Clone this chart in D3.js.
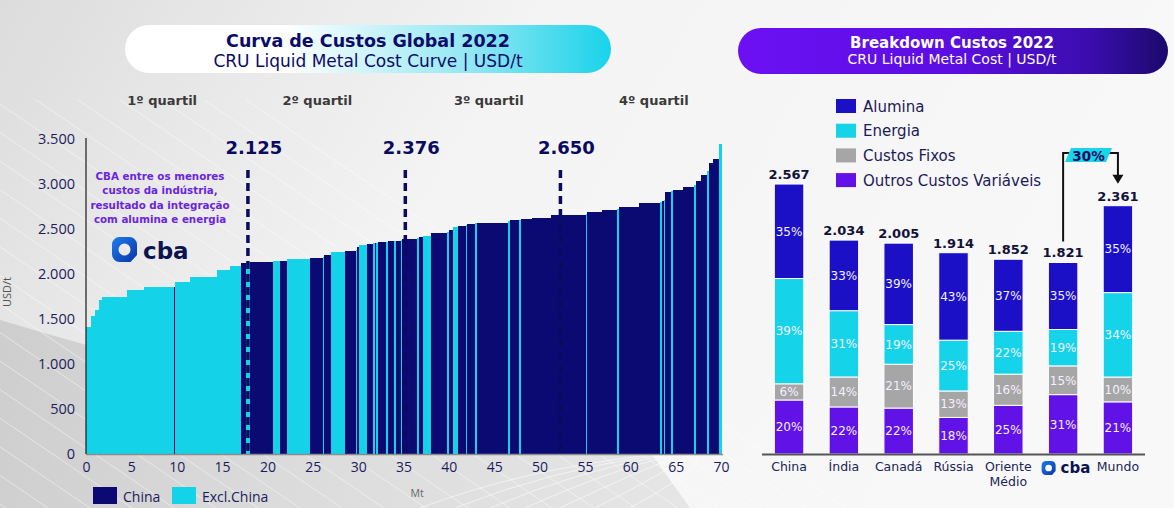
<!DOCTYPE html>
<html><head><meta charset="utf-8">
<script src="https://cdn.jsdelivr.net/npm/d3@7"></script>
<style>html,body{margin:0;padding:0;background:#f4f4f4;overflow:hidden}svg{display:block}</style>
</head><body>
<svg id="c" width="1174" height="508"></svg>
<script>
// ---------------- DATA ----------------
// Global cost curve: capacity (Mt) of each plant block, cost (USD/t), region (C = China, E = Excl.China)
const curveCapacity = [0.55,0.44,0.44,0.33,2.76,1.87,3.31,0.11,1.65,2.98,1.43,1.21,
  0.55,0.44,2.54,0.77,0.77,2.54,1.43,0.15,0.70,1.54,1.21,
  0.15,0.2,0.88,0.66,0.2,0.2,0.2,0.88,0.2,0.66,0.2,0.55,0.15,
  1.65,0.2,0.45,0.88,1.76,0.2,0.45,0.55,0.88,0.15,0.88,0.2,3.42,0.2,1.0,0.2,1.2,
  2.1,3.9,0.15,1.65,1.65,0.2,2.2,2.3,
  0.2,0.2,0.2,0.66,0.2,1.1,1.2,0.2,0.55,0.66,0.2,0.5,0.6,0.4];
const curveCost = [1410,1530,1600,1710,1745,1820,1855,1855,1910,1965,2045,2090,
  2120,2125,2133,2144,2150,2167,2181,2190,2211,2244,2259,
  2262,2300,2322,2333,2340,2345,2350,2356,2360,2367,2370,2372,2376,
  2389,2400,2411,2422,2456,2470,2489,2522,2533,2540,2556,2565,2570,2590,2600,2605,2611,
  2626,2660,2665,2690,2710,2720,2745,2790,
  2800,2810,2820,2911,2920,2933,2967,2990,3033,3100,3150,3233,3278,3450];
const curveRegion = ("EEEEEEECEEEE" + "CECECECECEC" + "ECECECECECECE" +
  "CECECECECECECECEC" + "CCECCECC" + "ECECECCECCECCE").split("");
const regionNames = ["China","Excl.China"];
const quartileNames = ["1º quartil","2º quartil","3º quartil","4º quartil"];
const quartileNamePos = [8.4,25.5,44.4,62.6];
const markerPos = [17.85,35.2,52.3];
const markerLabels = ["2.125","2.376","2.650"];
const yTicksL = [0,500,1000,1500,2000,2500,3000,3500];
const xTicksL = [0,5,10,15,20,25,30,35,40,45,50,55,60,65,70];
const noteLines = ["CBA entre os menores","custos da indústria,","resultado da integração","com alumina e energia"];

// Breakdown chart
const categories = ["China","Índia","Canadá","Rússia","Oriente Médio","cba","Mundo"];
const totals = [2567,2034,2005,1914,1852,1821,2361];
const aluminaPct = [35,33,39,43,37,35,35];
const energiaPct = [39,31,19,25,22,19,34];
const fixosPct   = [6,14,21,13,16,15,10];
const outrosPct  = [20,22,22,18,25,31,21];
const seriesNames = ["Alumina","Energia","Custos Fixos","Outros Custos Variáveis"];
const gapLabel = "30%";

// ---------------- SETUP ----------------
const fmt = d3.formatLocale({decimal:",",thousands:".",grouping:[3],currency:["",""]}).format(",");
const DV = "DejaVu Sans", OS = "Open Sans";
const NAVY = "#0a0a72", CYAN = "#14d3e8";
const svg = d3.select("#c");
const defs = svg.append("defs");
function lg(id, stops, x1=0,y1=0,x2=1,y2=0){
  const g = defs.append("linearGradient").attr("id",id).attr("x1",x1).attr("y1",y1).attr("x2",x2).attr("y2",y2);
  stops.forEach(s=>g.append("stop").attr("offset",s[0]).attr("stop-color",s[1]));
}
lg("bg",[[0,"#dcdcdc"],[0.22,"#e9e9e9"],[0.45,"#f4f4f4"],[1,"#f8f8f8"]],0,0,1,0.25);
lg("bgDark",[[0,"#c4c4c4"],[0.5,"#d3d3d3"],[1,"#dedede"]],0,0,1,0);
lg("pillL",[[0,"#ffffff"],[0.33,"#ffffff"],[0.72,"#8fe6f2"],[1,"#19d3ea"]]);
lg("pillR",[[0,"#6c10f4"],[0.5,"#5c0ee2"],[0.82,"#3a0cae"],[1,"#1b0a6c"]]);
lg("logo",[[0,"#1e7cf0"],[1,"#0b35a6"]],0,0,1,1);

// background
svg.append("rect").attr("width",1174).attr("height",508).attr("fill","url(#bg)");
const darkPath = "M0,320 C170,370 420,440 650,452 L690,508 L0,508 Z";
defs.append("clipPath").attr("id","darkClip").append("path").attr("d",darkPath);
svg.append("path").attr("d",darkPath).attr("fill","url(#bgDark)").attr("opacity",0.7);
const deco = svg.append("g").attr("stroke","#ffffff").attr("fill","none");
d3.range(-10,14).forEach(i=>{
  deco.append("line").attr("x1",i*42-300).attr("y1",100).attr("x2",i*42+300).attr("y2",508)
    .attr("stroke-width",1).attr("stroke-opacity",0.45);
});
d3.range(0,7).forEach(i=>{
  deco.append("path").attr("d",`M${420+i*35},508 Q${520+i*30},470 ${650+i*8},455`).attr("stroke-width",1).attr("stroke-opacity",0.55);
});

// ---------------- LEFT CHART ----------------
const xL = d3.scaleLinear().domain([0,70]).range([86,721]);
const yL = d3.scaleLinear().domain([0,3500]).range([454,139]);
const gL = svg.append("g");

// header pill
gL.append("rect").attr("x",125).attr("y",25).attr("width",486).attr("height",48).attr("rx",24).attr("fill","url(#pillL)");
gL.append("text").attr("x",368).attr("y",46.5).attr("text-anchor","middle").attr("font-family",DV).attr("font-weight","bold")
  .attr("font-size",17.5).attr("fill","#0b0b6a").text("Curva de Custos Global 2022");
gL.append("text").attr("x",368).attr("y",67).attr("text-anchor","middle").attr("font-family",DV)
  .attr("font-size",17).attr("fill","#0b0b6a").text("CRU Liquid Metal Cost Curve | USD/t");

// quartile titles
gL.selectAll("text.q").data(quartileNames).join("text").attr("class","q")
  .attr("x",(d,i)=>xL(quartileNamePos[i])).attr("y",105).attr("text-anchor","middle")
  .attr("font-family",DV).attr("font-weight","bold").attr("font-size",13).attr("fill","#3a3a3a").text(d=>d);

// bars
let acc = 0;
const segs = curveCapacity.map((w,i)=>{const s={x0:acc,x1:acc+w,cost:curveCost[i],region:curveRegion[i]}; acc+=w; return s;});
const colL = {C:NAVY,E:CYAN};
gL.append("g").selectAll("rect").data(segs).join("rect")
  .attr("x",d=>xL(d.x0)).attr("width",d=>Math.max(1,xL(d.x1)-xL(d.x0)))
  .attr("y",d=>yL(d.cost)).attr("height",d=>yL(0)-yL(d.cost))
  .attr("fill",d=>colL[d.region]).attr("shape-rendering","crispEdges");

// axes
const yAx = gL.append("g").attr("transform",`translate(${xL(0)},0)`)
  .call(d3.axisLeft(yL).tickValues(yTicksL).tickSize(0).tickPadding(11).tickFormat(fmt));
yAx.select(".domain").remove();
yAx.selectAll("text").attr("font-family",OS).attr("font-size",14.5).attr("fill","#1c1c5c");
const xAx = gL.append("g").attr("transform",`translate(0,${yL(0)})`)
  .call(d3.axisBottom(xL).tickValues(xTicksL).tickSize(0).tickPadding(8).tickFormat(d3.format("d")));
xAx.select(".domain").remove();
xAx.selectAll("text").attr("font-family",OS).attr("font-size",14).attr("fill","#1c1c5c");
gL.append("line").attr("x1",xL(0)).attr("x2",xL(70)+2).attr("y1",yL(0)+0.5).attr("y2",yL(0)+0.5).attr("stroke","#8c8c8c").attr("stroke-width",1.5);
gL.append("line").attr("x1",xL(0)).attr("x2",xL(0)).attr("y1",yL(3500)-1).attr("y2",yL(0)).attr("stroke","#1a1a1a").attr("stroke-width",1.2);

gL.append("text").attr("transform",`translate(11,${yL(1800)}) rotate(-90)`).attr("text-anchor","middle")
  .attr("font-family",OS).attr("font-size",11).attr("fill","#555").text("USD/t");
gL.append("text").attr("x",xL(36.5)).attr("y",497).attr("text-anchor","middle")
  .attr("font-family",OS).attr("font-size",10.5).attr("fill","#666").text("Mt");

// marker lines
markerPos.forEach((p,i)=>{
  gL.append("line").attr("x1",xL(p)).attr("x2",xL(p)).attr("y1",170).attr("y2",yL(0))
    .attr("stroke","#0a0a5e").attr("stroke-width",3.5).attr("stroke-dasharray","8,5");
  gL.append("text").attr("x",xL(p)+6).attr("y",154).attr("text-anchor","middle").attr("font-family",DV)
    .attr("font-weight","bold").attr("font-size",18).attr("fill","#0a0a5e").text(markerLabels[i]);
});

// note
gL.selectAll("text.note").data(noteLines).join("text").attr("class","note")
  .attr("x",160).attr("y",(d,i)=>179.5+i*14.5).attr("text-anchor","middle").attr("font-family",DV)
  .attr("font-weight","bold").attr("font-size",10.3).attr("fill","#6a25dd").text(d=>d);

function logo(g,x,y,s,fs,gap){
  const r = s*0.3, cx = x+s/2, cy = y+s/2, ir = s*0.24;
  const p = d3.path();
  p.moveTo(x+r,y); p.lineTo(x+s-r,y); p.arcTo(x+s,y,x+s,y+r,r); p.lineTo(x+s,y+s*0.72);
  p.lineTo(x+s*0.74,y+s); p.lineTo(x+r,y+s); p.arcTo(x,y+s,x,y+s-r,r); p.lineTo(x,y+r); p.arcTo(x,y,x+r,y,r); p.closePath();
  p.moveTo(cx+ir,cy); p.arc(cx,cy,ir,0,Math.PI*2,true); p.closePath();
  g.append("path").attr("d",p.toString()).attr("fill","url(#logo)").attr("fill-rule","evenodd");
  g.append("text").attr("x",x+s+gap).attr("y",y+s*0.86).attr("font-family",DV).attr("font-weight","bold")
    .attr("font-size",fs).attr("fill","#0c1450").text("cba");
}
logo(gL,112,237,25,23,6);

// legend left
const legL = gL.append("g");
regionNames.forEach((n,i)=>{
  const lx = [93,172][i];
  legL.append("rect").attr("x",lx).attr("y",487).attr("width",24).attr("height",17).attr("fill",[NAVY,CYAN][i]);
  legL.append("text").attr("x",lx+30).attr("y",501.5).attr("font-family",OS).attr("font-size",14).attr("fill","#1c1c5c").text(n);
});

// ---------------- RIGHT CHART ----------------
const gR = svg.append("g");
gR.append("rect").attr("x",738).attr("y",28).attr("width",430).attr("height",46).attr("rx",23).attr("fill","url(#pillR)");
gR.append("text").attr("x",952).attr("y",47.5).attr("text-anchor","middle").attr("font-family",DV).attr("font-weight","bold")
  .attr("font-size",15).attr("fill","#ffffff").text("Breakdown Custos 2022");
gR.append("text").attr("x",952).attr("y",64).attr("text-anchor","middle").attr("font-family",DV)
  .attr("font-size",14).attr("fill","#ffffff").text("CRU Liquid Metal Cost | USD/t");

const keys = ["outros","fixos","energia","alumina"];
const colR = {alumina:"#1b10c6",energia:"#15d3e9",fixos:"#a6a6a6",outros:"#6112e6"};
const rows = categories.map((c,i)=>{
  const sum = aluminaPct[i]+energiaPct[i]+fixosPct[i]+outrosPct[i];
  return {cat:c,total:totals[i],
    alumina:totals[i]*aluminaPct[i]/sum, energia:totals[i]*energiaPct[i]/sum,
    fixos:totals[i]*fixosPct[i]/sum, outros:totals[i]*outrosPct[i]/sum,
    pct:{alumina:aluminaPct[i],energia:energiaPct[i],fixos:fixosPct[i],outros:outrosPct[i]}};
});
const stack = d3.stack().keys(keys)(rows);
const xR = d3.scaleBand().domain(categories).range([762,1145]).paddingInner(0.462).paddingOuter(0.225);
const yR = d3.scaleLinear().domain([0,3000]).range([454,454-315.5]);
const bw = xR.bandwidth();

stack.forEach(layer=>{
  const k = layer.key;
  const lg2 = gR.append("g");
  lg2.selectAll("rect").data(layer).join("rect")
    .attr("x",d=>xR(d.data.cat)).attr("width",bw)
    .attr("y",d=>yR(d[1])).attr("height",d=>yR(d[0])-yR(d[1]))
    .attr("fill",colR[k]).attr("stroke","#ffffff").attr("stroke-width",1);
  lg2.selectAll("text").data(layer).join("text")
    .attr("x",d=>xR(d.data.cat)+bw/2).attr("y",d=>(yR(d[0])+yR(d[1]))/2+4.3)
    .attr("text-anchor","middle").attr("font-family",DV).attr("font-size",12).attr("fill","#f4f0ff")
    .text(d=>d.data.pct[k]+"%");
});
gR.append("line").attr("x1",762).attr("x2",1145).attr("y1",yR(0)+0.5).attr("y2",yR(0)+0.5).attr("stroke","#555").attr("stroke-width",2);

// totals
gR.selectAll("text.tot").data(rows).join("text").attr("class","tot")
  .attr("x",d=>xR(d.cat)+bw/2).attr("y",d=>yR(d.total)-5).attr("text-anchor","middle")
  .attr("font-family",DV).attr("font-weight","bold").attr("font-size",13).attr("fill","#121238")
  .text(d=>fmt(d.total));

// category labels
categories.forEach(c=>{
  const cx = xR(c)+bw/2;
  if(c==="cba"){ logo(gR,cx-21.5,461,14,15,5); return; }
  const parts = c==="Oriente Médio" ? ["Oriente","Médio"] : [c];
  parts.forEach((t,j)=>gR.append("text").attr("x",cx).attr("y",471+j*15).attr("text-anchor","middle")
    .attr("font-family",DV).attr("font-size",12.5).attr("fill","#1b2656").text(t));
});

// legend right
seriesNames.forEach((n,i)=>{
  const ly = 99+i*24.7;
  gR.append("rect").attr("x",836).attr("y",ly).attr("width",20).attr("height",14).attr("fill",colR[["alumina","energia","fixos","outros"][i]]);
  gR.append("text").attr("x",863).attr("y",ly+12.5).attr("font-family",DV).attr("font-size",15).attr("fill","#1b1b5a").text(n);
});

// 30% bracket arrow
const xc = xR("cba")+bw/2, xm = xR("Mundo")+bw/2, ty = yR(2862);
const tip = yR(totals[6])-22;
gR.append("path").attr("d",`M${xc},${yR(totals[5])-21} V${ty} H${xm} V${tip-7}`)
  .attr("fill","none").attr("stroke","#111").attr("stroke-width",2);
gR.append("path").attr("d",`M${xm-5.5},${tip-9} L${xm+5.5},${tip-9} L${xm},${tip} Z`).attr("fill","#111");
const pc = (xc+xm)/2 - 2;
gR.append("path").attr("d",`M${pc-17.5},${ty-5} L${pc+23.5},${ty-5} L${pc+17.5},${ty+9} L${pc-23.5},${ty+9} Z`).attr("fill","#1ad4ea");
gR.append("text").attr("x",pc).attr("y",ty+7.5).attr("text-anchor","middle").attr("font-family",DV)
  .attr("font-weight","bold").attr("font-size",13.5).attr("fill","#0a0a5e").text(gapLabel);
</script>
</body></html>
